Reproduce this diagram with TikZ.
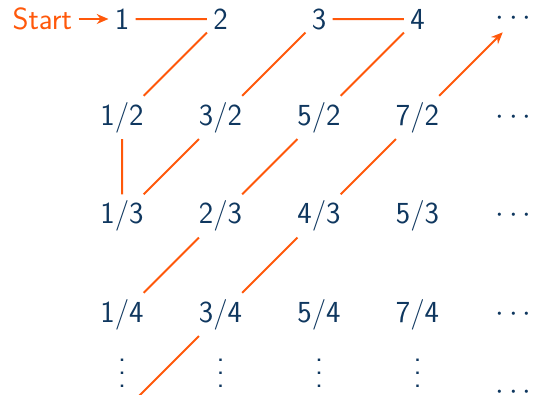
\documentclass[tikz,border=0pt]{standalone}
\usepackage{amsmath}
\usepackage{tikz}
\usetikzlibrary{positioning,arrows.meta}
\definecolor{fracblue}{RGB}{15,55,95}
\definecolor{walkorange}{RGB}{255,88,10}
\newcommand\coldots{\vbox{\baselineskip0.42em\lineskiplimit0pt\hbox{.}\hbox{.}\hbox{.}}}
\tikzset{
  entry/.style={text=fracblue,font=\sffamily\fontsize{17}{20}\selectfont},
  walk/.style={walkorange,line width=1.1pt},
  walktip/.style={-{Stealth[length=6.5pt,width=5.5pt]}}
}

\begin{document}
\begin{tikzpicture}[x=1.9224cm,y=1.9224cm]
    \useasboundingbox (-0.239,0.193) rectangle (5.223,-3.817);
    \clip (-0.239,0.193) rectangle (5.223,-3.817);
    % rows of the table
    \foreach \lab [count=\i] in {1,2,3,4,$\cdots$}
        \node[entry] (a\i) at (\i,0) {\lab};
    \foreach \lab [count=\i] in {1/2,3/2,5/2,7/2,$\cdots$}
        \node[entry] (b\i) at (\i,-1) {\lab};
    \foreach \lab [count=\i] in {1/3,2/3,4/3,5/3,$\cdots$}
        \node[entry] (c\i) at (\i,-2) {\lab};
    \foreach \lab [count=\i] in {1/4,3/4,5/4,7/4,$\cdots$}
        \node[entry] (d\i) at (\i,-3) {\lab};
    \foreach \i in {1,2,3,4}
        \node[entry] (e\i) at (\i,-3.594) {\coldots};
    \node[entry] (e5) at (5,-3.79) {$\cdots$};
    \node[entry,text=walkorange,left=0.585cm of a1] (start) {Start};
    % the walk
    \draw[walk,walktip] (start) -- (a1);
    \draw[walk] (a1) -- (a2) -- (b1) -- (c1) -- (b2) -- (a3) -- (a4) -- (b3) -- (c2) -- (d1);
    \coordinate (below) at (1,-4);
    \draw[walk,walktip] (below) -- (d2) -- (c3) -- (b4) -- (a5);
\end{tikzpicture}
\end{document}
